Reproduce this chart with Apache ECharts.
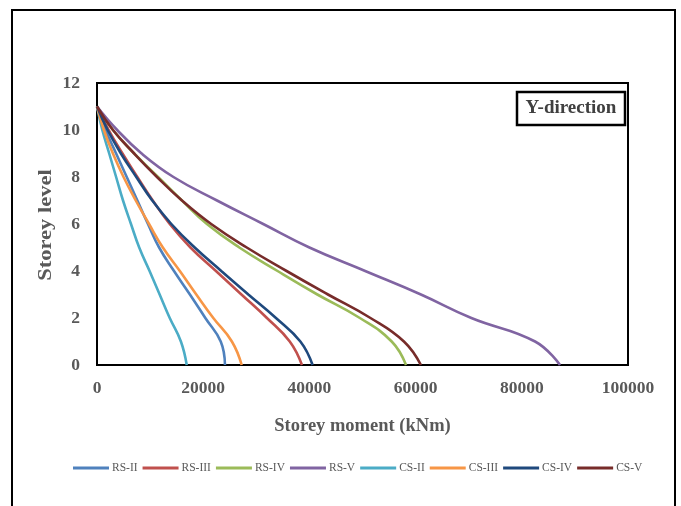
<!DOCTYPE html>
<html>
<head>
<meta charset="utf-8">
<script src="https://cdn.jsdelivr.net/npm/echarts@6/dist/echarts.min.js"></script>
<style>
  html, body { margin: 0; padding: 0; background: #fff; }
  #chart { width: 681px; height: 506px; }
</style>
</head>
<body>
<div id="chart"></div>
<script>
// Storey levels (ground = 0, roof = 11)
const levels = [0, 1, 2, 3, 4, 5, 6, 7, 8, 9, 10, 11];

// Storey moment (kNm) at each level, bottom to top
const rsII  = [24100, 23300, 20400, 17500, 14500, 11700, 9600, 7600, 5600, 3600, 1600, 0];
const rsIII = [38600, 36300, 32000, 27200, 22400, 17600, 13700, 10500, 7600, 4800, 2200, 0];
const rsIV  = [58200, 55500, 49500, 41500, 34000, 26800, 20700, 16000, 11500, 7000, 3000, 0];
const rsV   = [87200, 82500, 70500, 61000, 50500, 40000, 31300, 22600, 14400, 8400, 3800, 0];
const csII  = [16900, 15800, 13700, 11800, 9900, 7950, 6400, 4900, 3600, 2300, 1000, 0];
const csIII = [27250, 25400, 21900, 18700, 15600, 12400, 9800, 7300, 5000, 3000, 1300, 0];
const csIV  = [40600, 38300, 33700, 28500, 23400, 18400, 14000, 10400, 7400, 4500, 2000, 0];
const csV   = [61000, 57800, 51500, 43500, 35700, 28200, 21500, 16000, 11300, 7000, 3000, 0];

const seriesNames = ['RS-II', 'RS-III', 'RS-IV', 'RS-V', 'CS-II', 'CS-III', 'CS-IV', 'CS-V'];
const seriesValues = [rsII, rsIII, rsIV, rsV, csII, csIII, csIV, csV];
const seriesColors = ['#4F81BD', '#C0504D', '#9BBB59', '#8064A2', '#4BACC6', '#F79646', '#1F497D', '#772C2A'];

const xTicks = [0, 20000, 40000, 60000, 80000, 100000];
const yTicks = [0, 2, 4, 6, 8, 10, 12];

const serif = '"Liberation Serif", "DejaVu Serif", serif';

const chart = echarts.init(document.getElementById('chart'), null, { renderer: 'canvas' });

const series = seriesNames.map((name, i) => ({
  name: name,
  type: 'line',
  data: seriesValues[i].map((v, k) => [v, levels[k]]),
  smooth: 0.45,
  showSymbol: false,
  symbol: 'none',
  lineStyle: { color: seriesColors[i], width: 2.6 },
  itemStyle: { color: seriesColors[i] },
  z: 3
}));

chart.setOption({
  animation: false,
  backgroundColor: '#ffffff',
  grid: {
    left: 97, right: 53, top: 83, bottom: 141,
    show: true, borderColor: '#000', borderWidth: 2, backgroundColor: 'transparent'
  },
  xAxis: {
    type: 'value',
    min: xTicks[0], max: xTicks[xTicks.length - 1], interval: 20000,
    name: 'Storey moment (kNm)',
    nameLocation: 'middle',
    nameGap: 52,
    nameTextStyle: { fontFamily: serif, fontWeight: 'bold', fontSize: 18.5, color: '#595959' },
    axisLine: { show: true, lineStyle: { color: '#000', width: 2 } },
    axisTick: { show: false },
    splitLine: { show: false },
    axisLabel: {
      fontFamily: serif, fontWeight: 'bold', fontSize: 17.5, color: '#595959', margin: 14,
      formatter: v => String(v)
    }
  },
  yAxis: {
    type: 'value',
    min: yTicks[0], max: yTicks[yTicks.length - 1], interval: 2,
    axisLine: { show: true, lineStyle: { color: '#000', width: 2 } },
    axisTick: { show: false },
    splitLine: { show: false },
    axisLabel: { fontFamily: serif, fontWeight: 'bold', fontSize: 17.5, color: '#595959', margin: 17 }
  },
  legend: {
    data: seriesNames,
    left: 68, top: 457,
    icon: 'rect',
    itemWidth: 36, itemHeight: 3,
    itemGap: 5,
    textStyle: { fontFamily: serif, fontSize: 11.5, color: '#595959', padding: [0, 0, 0, -2] }
  },
  graphic: [
    {
      type: 'rect', silent: true, z: 0,
      shape: { x: 12, y: 10, width: 663, height: 520 },
      style: { fill: 'none', stroke: '#000', lineWidth: 2 }
    },
    {
      // y-axis title, drawn with a wider tracking
      type: 'text', silent: true, z: 5,
      x: 46, y: 225, rotation: Math.PI / 2, scaleX: 1.25,
      style: {
        text: 'Storey level', fill: '#595959',
        font: 'bold 18px ' + serif,
        align: 'center', verticalAlign: 'middle'
      }
    },
    {
      type: 'rect', silent: true, z: 10,
      shape: { x: 517, y: 92, width: 108, height: 33 },
      style: { fill: '#fff', stroke: '#000', lineWidth: 2.5 }
    },
    {
      type: 'text', silent: true, z: 11,
      x: 571, y: 108.5,
      style: {
        text: 'Y-direction', fill: '#404040',
        font: 'bold 19px ' + serif,
        align: 'center', verticalAlign: 'middle'
      }
    }
  ],
  series: series
});
</script>
</body>
</html>
